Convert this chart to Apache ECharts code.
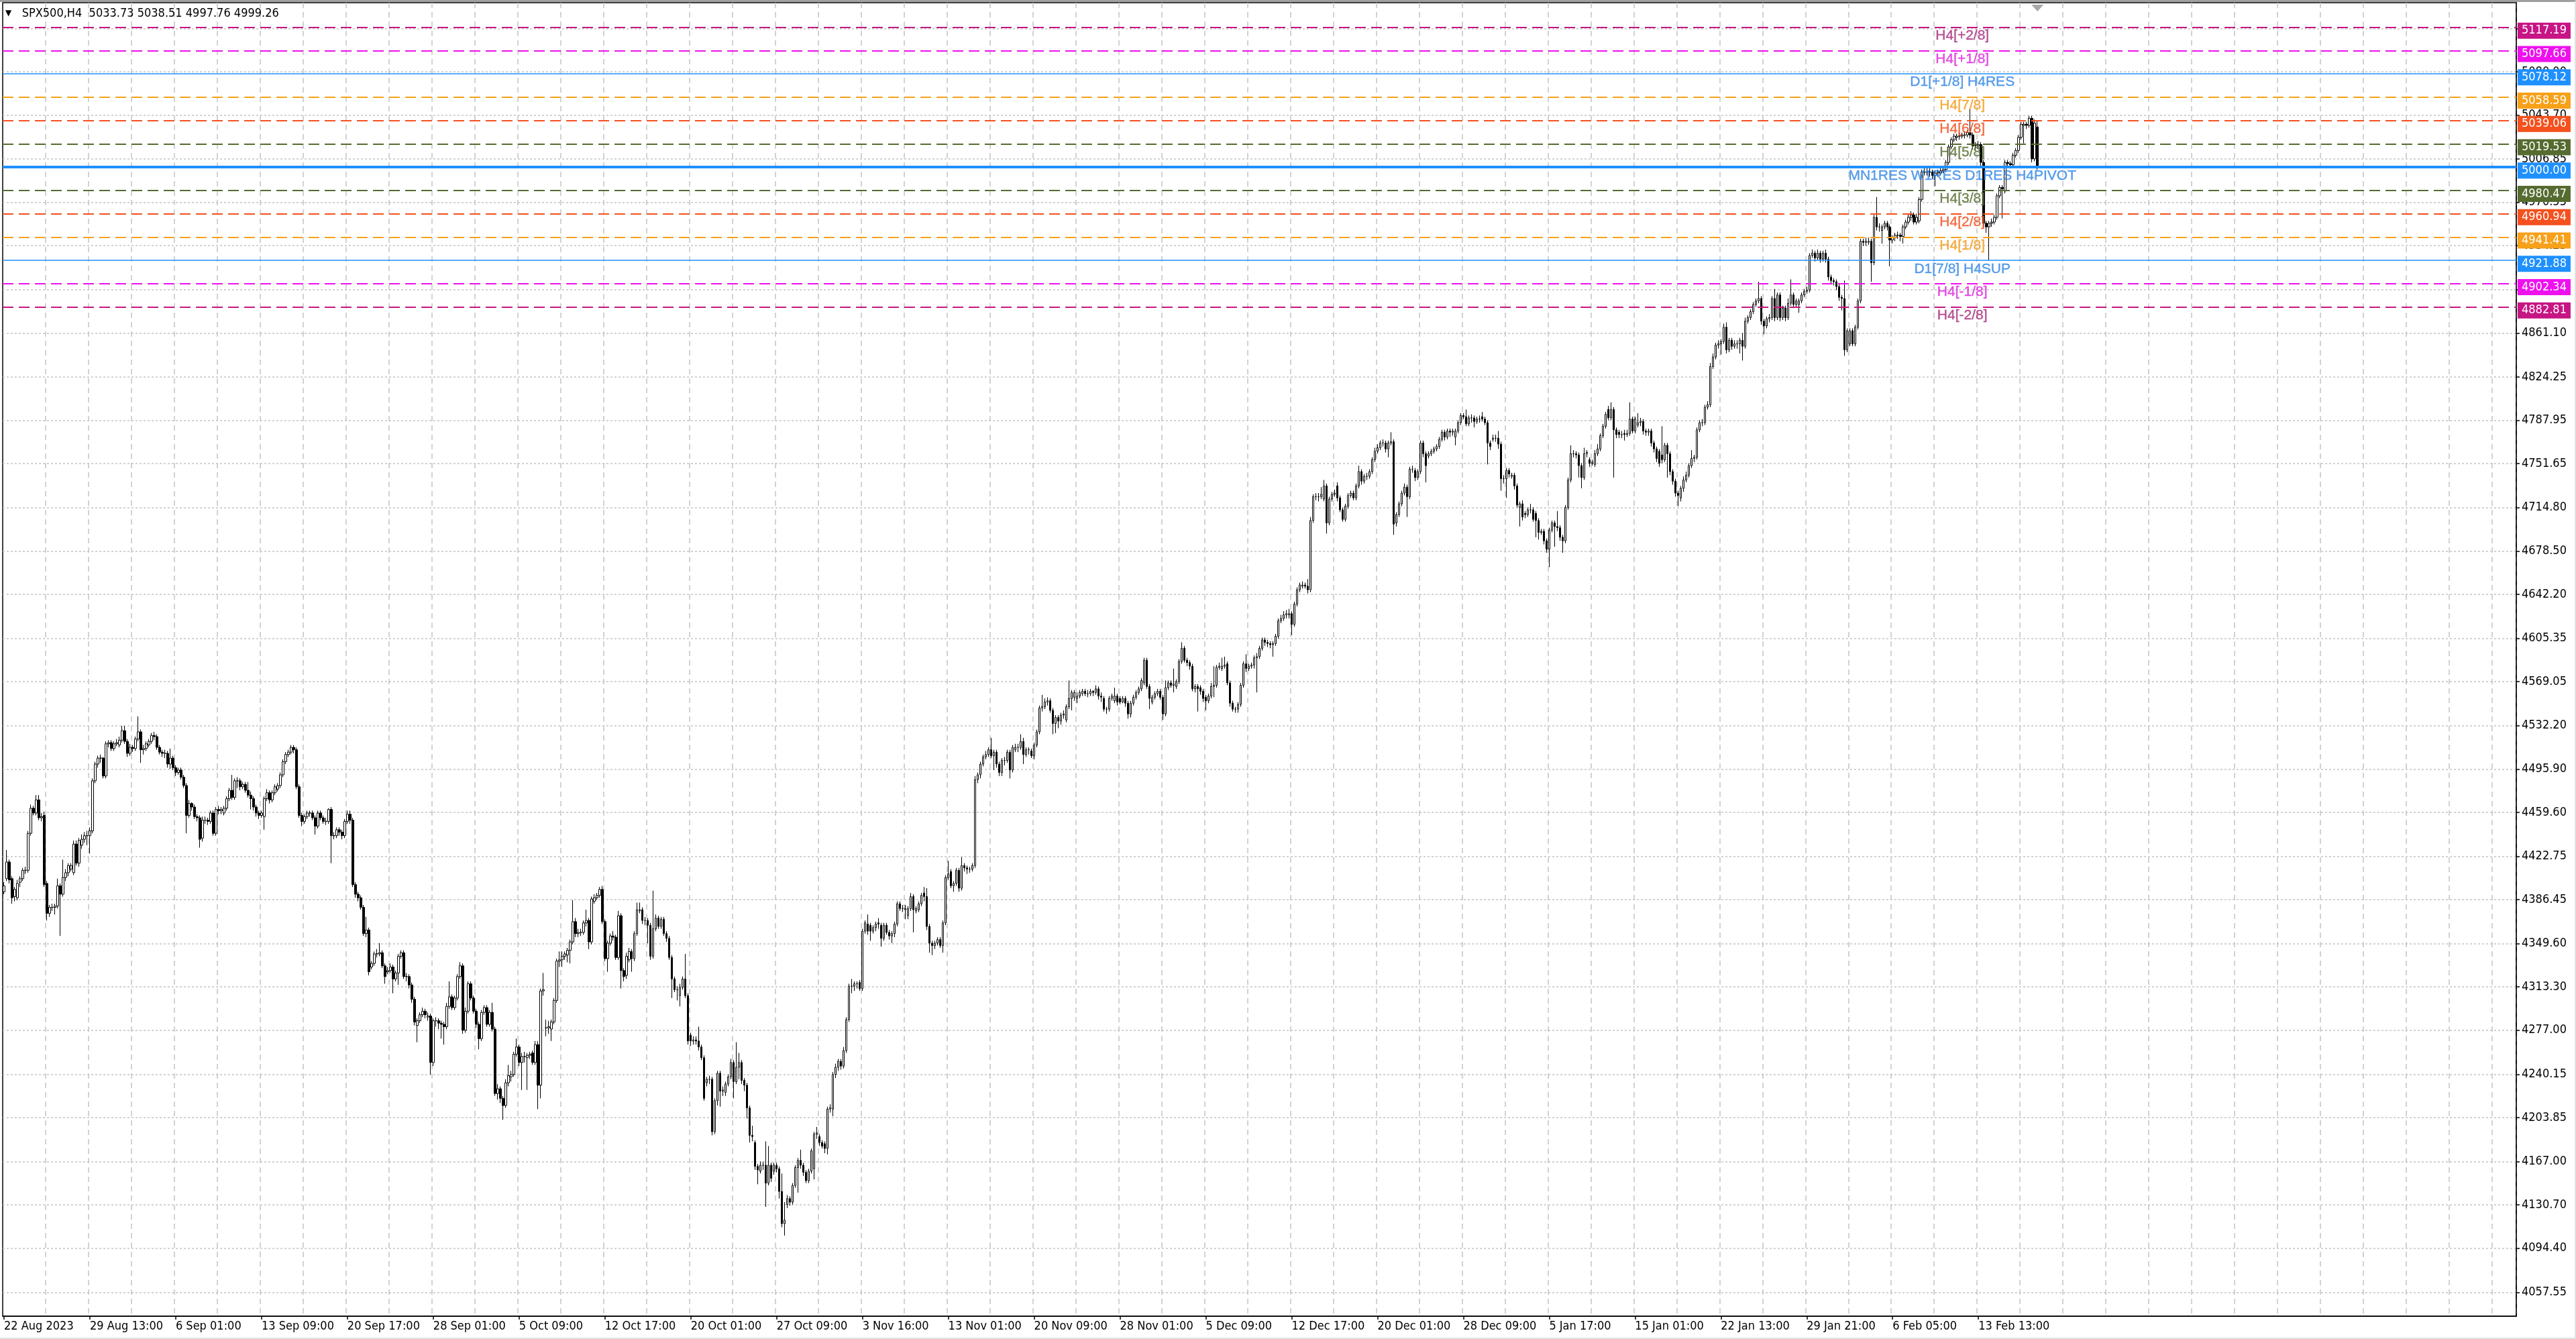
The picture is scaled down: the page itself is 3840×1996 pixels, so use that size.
<!DOCTYPE html>
<html><head><meta charset="utf-8">
<script src="https://cdn.jsdelivr.net/npm/echarts@6/dist/echarts.min.js"></script>
<style>
html,body{margin:0;padding:0;background:#fff;}
#wrap{width:3840px;height:1996px;box-sizing:border-box;border-top:3px solid #a0a0a0;border-right:2px solid #e2e2e2;border-bottom:2px solid #e2e2e2;}
#c{width:3838px;height:1991px;}
</style></head><body><div id="wrap"><div id="c"></div></div>
<script>
const symbolName = 'SPX500';
const timeframe = 'H4';

// candles as [open, close, low, high]
const seg1 = [
[4393,4398,4391,4401],[4404,4418,4402,4428],[4418,4403,4400,4420],[4404,4388,4383,4406],[4389,4395,4385,4397],
[4388,4400,4386,4403],[4401,4404,4397,4406],[4404,4411,4402,4413],[4411,4411,4408,4414],[4411,4442,4409,4444],
[4442,4463,4440,4466],[4463,4459,4457,4465],[4459,4470,4457,4474],[4470,4455,4453,4474],[4455,4456,4452,4459],
[4457,4399,4397,4460],[4400,4375,4369,4402],[4375,4380,4372,4382],[4380,4380,4377,4383],[4380,4381,4374,4383],
[4381,4398,4379,4404],[4398,4391,4356,4400],[4391,4405,4389,4420],[4405,4409,4402,4412],[4409,4415,4406,4417],
[4412,4415,4410,4417],[4409,4433,4407,4436],[4433,4417,4415,4436],[4417,4436,4414,4438],[4432,4437,4429,4441],
[4437,4440,4434,4443],[4440,4440,4432,4444],[4440,4444,4425,4447],[4444,4486,4442,4488],[4486,4500,4484,4502],
[4500,4505,4497,4507],[4505,4505,4501,4508],[4505,4490,4488,4506],[4490,4517,4488,4519],[4517,4518,4514,4520],
[4518,4513,4511,4520],[4513,4517,4511,4519],[4517,4518,4515,4521],[4516,4520,4514,4523],[4520,4528,4518,4532],
[4528,4519,4517,4532],[4519,4509,4506,4521],[4509,4514,4507,4517],[4514,4513,4510,4516],[4513,4521,4511,4523],
[4521,4527,4519,4540],[4527,4512,4501,4529],[4512,4513,4508,4516],[4513,4517,4511,4519],[4516,4519,4514,4521],
[4519,4524,4517,4526],[4524,4523,4520,4527],[4523,4514,4512,4525],[4514,4510,4508,4516],[4510,4509,4506,4512],
[4509,4509,4505,4512],[4509,4500,4497,4511],[4500,4505,4496,4513],[4505,4497,4495,4507],[4497,4493,4490,4499],
[4493,4495,4491,4497],[4495,4489,4487,4497],[4489,4482,4480,4491],[4482,4457,4442,4484],[4457,4467,4455,4470],
[4467,4464,4461,4468],[4464,4456,4454,4466],[4456,4455,4452,4458],[4455,4437,4430,4457],[4438,4453,4435,4456],
[4453,4453,4450,4456],[4453,4452,4449,4455],[4452,4459,4450,4461],[4459,4442,4440,4461],[4442,4462,4440,4464],
[4462,4461,4458,4465],[4461,4462,4458,4464],[4459,4463,4457,4465],[4463,4471,4461,4473],[4471,4478,4469,4480],
[4478,4472,4470,4491],[4472,4486,4470,4488],[4486,4486,4480,4489],[4486,4481,4478,4488],[4481,4483,4479,4485],
[4483,4478,4476,4485],[4478,4474,4472,4485],[4474,4471,4462,4477],[4471,4464,4461,4473],[4464,4459,4456,4466],
[4459,4457,4454,4461],[4457,4459,4455,4461],[4456,4471,4445,4473],[4471,4476,4469,4479],[4476,4470,4467,4478],
[4470,4476,4468,4478],[4476,4481,4474,4483],[4479,4482,4477,4484],[4482,4491,4480,4493],[4491,4502,4489,4504],
[4502,4508,4500,4510],[4508,4510,4506,4512],[4510,4514,4508,4516],[4514,4512,4509,4516],[4512,4481,4479,4514],
[4481,4457,4455,4483],[4457,4452,4448,4459],[4452,4456,4450,4458],[4456,4459,4454,4461],[4459,4459,4456,4461],
[4459,4455,4453,4461],[4455,4448,4441,4457],[4448,4459,4446,4461],[4459,4455,4453,4461],[4455,4452,4450,4457],
[4452,4452,4449,4455],[4452,4462,4450,4463],[4462,4440,4417,4464],[4440,4440,4437,4443],[4440,4445,4438,4447],
[4445,4443,4440,4447],[4443,4440,4437,4445],[4440,4452,4438,4454],[4452,4458,4450,4461],[4458,4453,4450,4461],
[4453,4399,4397,4455],[4399,4391,4388,4401],[4391,4388,4385,4393],[4388,4380,4378,4390],[4380,4358,4356,4382],
[4358,4361,4355,4372],[4361,4326,4323,4363],[4330,4333,4328,4335],[4333,4341,4331,4343],[4341,4341,4338,4345],
[4341,4342,4339,4350],[4342,4331,4329,4344],[4331,4322,4316,4333],[4326,4327,4324,4330],[4327,4330,4325,4333],
[4330,4320,4308,4332],[4320,4325,4318,4327],[4325,4339,4315,4341],[4339,4342,4337,4344],[4342,4322,4320,4344],
[4322,4322,4318,4325],[4322,4315,4312,4324],[4315,4303,4300,4317],[4303,4284,4281,4305],[4281,4285,4267,4287],
[4285,4290,4283,4292],[4290,4293,4288,4296],[4293,4290,4287,4295],[4288,4289,4285,4292],[4289,4250,4240,4291],
[4250,4285,4247,4287],[4285,4285,4280,4288],[4285,4283,4278,4287],[4283,4282,4270,4285],[4282,4280,4265,4284],
[4280,4297,4278,4300],[4297,4305,4295,4318],[4305,4296,4294,4307],[4296,4304,4294,4306],[4304,4322,4302,4324],
[4322,4331,4320,4334],[4331,4277,4274,4333],[4277,4293,4275,4296],[4293,4316,4291,4318],[4316,4304,4302,4318],
[4304,4293,4291,4306],[4293,4282,4279,4295],[4282,4270,4261,4284],[4270,4292,4268,4294],[4292,4296,4290,4298],
[4296,4282,4280,4298],[4282,4292,4280,4294],[4292,4278,4276,4300],[4278,4224,4222,4280],[4224,4228,4219,4232],
[4228,4220,4216,4230],[4220,4214,4202,4222],[4214,4233,4212,4236],[4233,4239,4230,4248],[4238,4240,4234,4243],
[4240,4257,4238,4259],[4257,4263,4255,4270],[4263,4250,4247,4265]
];
const seg2 = [
[4250,4255,4227,4258],[4255,4255,4250,4259],[4254,4256,4227,4258],[4256,4257,4253,4259],[4258,4250,4248,4260],
[4250,4265,4248,4268],[4265,4231,4211,4268],[4231,4310,4220,4312],[4310,4311,4306,4325],[4279,4279,4272,4286],
[4279,4280,4274,4285],[4278,4284,4268,4286],[4284,4302,4282,4304],[4302,4335,4300,4337],[4335,4336,4330,4343],
[4336,4339,4330,4343],[4339,4341,4336,4343],[4340,4344,4334,4346],[4344,4351,4333,4353],[4351,4368,4349,4386],
[4368,4358,4355,4371],[4358,4359,4355,4362],[4359,4359,4356,4362],[4359,4367,4357,4369],[4367,4369,4364,4378],
[4369,4351,4345,4371],[4351,4387,4349,4389],[4385,4388,4383,4391],[4388,4390,4386,4392],[4390,4395,4388,4397],
[4395,4368,4366,4398],[4368,4337,4335,4370],[4337,4350,4326,4352],[4350,4356,4348,4358],[4356,4355,4352,4360],
[4355,4338,4336,4357],[4338,4373,4336,4377],[4373,4327,4312,4375],[4327,4322,4318,4329],[4323,4339,4320,4342],
[4336,4343,4334,4346],[4343,4337,4326,4345],[4337,4358,4335,4360],[4358,4378,4356,4384],[4377,4378,4375,4384],
[4378,4369,4366,4380],[4369,4369,4365,4372],[4369,4365,4350,4371],[4365,4339,4336,4367],[4339,4362,4337,4394],
[4362,4371,4360,4374],[4371,4364,4362,4373],[4364,4370,4362,4372],[4370,4358,4356,4372],[4358,4354,4351,4360],
[4354,4338,4336,4356],[4338,4320,4304,4340],[4320,4311,4309,4322],[4311,4311,4302,4314],[4306,4313,4297,4316],
[4313,4320,4311,4322],[4320,4306,4304,4341],[4306,4268,4265,4308],[4273,4268,4264,4275],[4268,4269,4265,4272],
[4269,4268,4265,4272],[4268,4263,4260,4280],[4263,4254,4252,4265],[4254,4220,4218,4256],[4233,4236,4230,4238],
[4236,4236,4232,4239],[4236,4192,4189,4238],[4192,4218,4190,4220],[4218,4241,4214,4243],[4241,4226,4213,4243],
[4226,4227,4222,4230],[4225,4232,4222,4234],[4232,4238,4230,4240],[4238,4250,4236,4253],[4250,4234,4220,4252],
[4234,4246,4232,4267],[4246,4250,4236,4258],[4250,4235,4232,4252],[4235,4231,4226,4237],[4231,4212,4203,4233],
[4212,4189,4183,4214],[4189,4188,4184,4197],[4183,4163,4160,4185],[4163,4160,4148,4165],[4159,4164,4157,4167],
[4164,4164,4160,4167],[4164,4149,4129,4184],[4149,4164,4147,4180],[4164,4153,4150,4166],[4159,4164,4156,4166],
[4164,4161,4158,4166],[4161,4142,4136,4163],[4142,4115,4112,4157],[4115,4118,4105,4133],[4131,4136,4128,4139],
[4136,4133,4130,4138],[4133,4147,4131,4149],[4147,4162,4145,4164],[4162,4168,4141,4170],[4168,4164,4161,4177],
[4164,4158,4155,4166],[4158,4151,4149,4160],[4151,4159,4149,4161],[4159,4176,4157,4178],[4161,4190,4152,4192],
[4190,4191,4186,4196],[4188,4183,4180,4190],[4183,4180,4178,4185],[4182,4178,4174,4184],[4178,4211,4173,4213],
[4211,4212,4208,4215],[4211,4240,4205,4242],[4240,4246,4237,4249],[4246,4251,4243,4253],[4251,4247,4244,4253],
[4247,4260,4245,4263],[4260,4286,4258,4288],[4286,4314,4284,4316],[4314,4314,4308,4320],[4314,4316,4310,4318],
[4316,4316,4312,4318],[4317,4312,4310,4319],[4312,4360,4310,4362],[4360,4367,4358,4369],[4366,4360,4357,4374],
[4365,4360,4352,4367],[4360,4363,4358,4365],[4363,4366,4360,4368],[4367,4366,4362,4371],[4365,4354,4347,4367],
[4354,4365,4352,4367],[4365,4359,4357,4367],[4359,4356,4353,4361],[4356,4358,4350,4360],[4358,4366,4355,4368],
[4366,4383,4364,4385],[4383,4379,4377,4385],[4379,4379,4376,4382],[4378,4379,4370,4382],[4373,4379,4370,4381],
[4379,4389,4377,4392],[4389,4378,4359,4391],[4377,4379,4375,4381],[4378,4383,4376,4385],[4383,4390,4381,4392],
[4392,4389,4385,4397],[4389,4364,4361,4396],[4364,4350,4342,4366],[4350,4348,4340,4352],[4348,4350,4345,4352],
[4350,4353,4348,4355],[4353,4348,4346,4355],[4348,4367,4342,4369],[4367,4405,4365,4407],[4405,4408,4403,4419],
[4410,4398,4396,4412],[4398,4400,4393,4402],[4400,4411,4398,4413],[4411,4396,4393,4413],[4396,4415,4394,4422],
[4415,4413,4410,4417],[4413,4412,4408,4415],[4412,4412,4409,4414],[4412,4415,4410,4417],[4415,4487,4413,4490],
[4487,4491,4484,4493],[4491,4500,4488,4502],[4500,4506,4498,4508],[4506,4508,4504,4511],[4508,4512,4506,4514],
[4512,4507,4505,4522],[4507,4510,4495,4512],[4510,4500,4497,4512],[4500,4493,4490,4502],[4493,4503,4490,4505],
[4503,4503,4499,4506],[4503,4510,4501,4512],[4510,4495,4488,4512],[4495,4514,4493,4516],[4512,4514,4510,4517],
[4514,4514,4510,4517],[4514,4519,4512,4525],[4519,4508,4500,4522],[4508,4512,4506,4514],[4512,4512,4508,4514],
[4511,4507,4505,4513]
];
const seg3 = [
[4507,4516,4504,4518],[4516,4527,4514,4529],[4527,4547,4525,4549],[4547,4548,4544,4558],[4548,4552,4546,4555],
[4552,4553,4549,4556],[4553,4545,4543,4555],[4545,4534,4525,4547],[4534,4539,4526,4541],[4539,4536,4530,4541],
[4536,4541,4533,4543],[4541,4542,4538,4545],[4537,4548,4535,4550],[4548,4555,4546,4570],[4555,4560,4545,4562],
[4556,4560,4553,4562],[4555,4557,4551,4560],[4557,4560,4555,4562],[4559,4561,4557,4563],[4561,4559,4557,4563],
[4559,4559,4556,4562],[4559,4561,4557,4563],[4561,4560,4557,4562],[4560,4563,4558,4566],[4563,4557,4554,4565],
[4557,4556,4552,4560],[4555,4546,4544,4557],[4546,4546,4542,4548],[4546,4555,4544,4557],[4555,4557,4553,4559],
[4553,4557,4551,4564],[4557,4552,4549,4559],[4555,4552,4550,4557],[4552,4555,4551,4557],[4555,4551,4548,4557],
[4551,4542,4538,4553],[4542,4551,4539,4553],[4551,4556,4549,4558],[4556,4560,4554,4562],[4560,4563,4558,4565],
[4563,4570,4561,4572],[4568,4587,4566,4589],[4587,4565,4563,4589],[4565,4555,4546,4567],[4552,4556,4550,4558],
[4556,4559,4554,4561],[4559,4561,4557,4563],[4561,4556,4554,4563],[4556,4542,4537,4558],[4542,4564,4540,4570],
[4564,4568,4562,4570],[4568,4566,4564,4570],[4566,4567,4560,4580],[4565,4569,4563,4571],[4569,4586,4567,4588],
[4586,4597,4584,4602],[4597,4587,4585,4599],[4587,4585,4582,4589],[4585,4582,4579,4587],[4582,4563,4561,4584],
[4563,4565,4560,4567],[4565,4563,4544,4567],[4564,4561,4558,4566],[4561,4555,4552,4563],[4556,4553,4545,4558],
[4553,4557,4551,4559],[4557,4565,4555,4568],[4565,4566,4556,4582],[4566,4581,4564,4583],[4581,4582,4579,4585],
[4580,4582,4578,4589],[4582,4583,4580,4590],[4584,4568,4566,4586],[4568,4551,4548,4570],[4551,4546,4544,4553],
[4546,4546,4543,4548],[4546,4550,4543,4552],[4550,4566,4548,4568],[4566,4584,4564,4586],[4584,4580,4577,4592],
[4580,4582,4578,4584],[4582,4583,4580,4585],[4583,4589,4580,4591],[4589,4590,4560,4593],[4590,4597,4588,4599],
[4597,4604,4595,4606],[4604,4602,4599,4606],[4602,4601,4598,4604],[4601,4600,4597,4603],[4600,4601,4590,4603],
[4601,4607,4599,4609],[4607,4620,4605,4622],[4620,4622,4618,4625],[4622,4625,4620,4628],[4625,4626,4622,4629],
[4625,4626,4622,4630],[4626,4617,4608,4628],[4617,4634,4615,4636],[4634,4646,4632,4648],[4646,4650,4644,4652],
[4649,4650,4647,4653],[4650,4649,4647,4652],[4649,4646,4643,4655],[4646,4704,4644,4707],[4704,4724,4702,4726],
[4724,4724,4721,4727],[4724,4724,4720,4727],[4724,4726,4722,4732],[4722,4733,4720,4738],[4733,4702,4693,4735],
[4702,4722,4700,4724],[4722,4726,4720,4728],[4726,4727,4724,4730],[4733,4723,4720,4736],[4723,4713,4711,4725],
[4713,4705,4703,4715],[4705,4716,4703,4718],[4716,4725,4714,4727],[4725,4727,4723,4729],[4727,4723,4721,4729],
[4723,4733,4721,4735],[4733,4745,4731,4750],[4745,4737,4734,4747],[4737,4741,4735,4743],[4741,4741,4738,4744],
[4741,4745,4739,4747],[4745,4755,4743,4757],[4755,4762,4753,4765],[4762,4765,4760,4768],[4765,4769,4763,4771],
[4769,4769,4766,4772],[4769,4764,4761,4771],[4764,4769,4757,4771],[4769,4770,4767,4778],[4770,4701,4692,4772],
[4702,4709,4699,4711],[4709,4718,4707,4720],[4718,4727,4716,4729],[4727,4732,4725,4735],[4732,4724,4707,4734],
[4724,4747,4722,4749],[4747,4747,4744,4750],[4746,4740,4737,4748],[4740,4745,4738,4747],[4745,4769,4743,4771],
[4769,4760,4757,4771],[4760,4750,4736,4762],[4758,4760,4756,4762],[4760,4762,4758,4764],[4762,4764,4760,4766],
[4764,4766,4762,4768],[4766,4772,4764,4774],[4772,4778,4770,4780],[4778,4774,4771,4780],[4774,4779,4772,4781],
[4779,4778,4774,4781],[4778,4779,4775,4781],[4774,4779,4767,4781],[4779,4786,4777,4788],[4786,4792,4784,4794],
[4792,4791,4789,4794],[4791,4785,4783,4797],[4785,4790,4783,4792],[4790,4790,4786,4793],[4790,4787,4782,4792],
[4787,4789,4785,4791],[4789,4789,4786,4792],[4791,4789,4787,4795],[4789,4786,4784,4791],[4786,4769,4751,4788],
[4769,4766,4763,4771],[4772,4773,4770,4776],[4773,4773,4770,4776],[4773,4768,4764,4779],[4768,4739,4729,4770],
[4739,4739,4735,4742],[4739,4746,4723,4748],[4746,4743,4740,4748],[4741,4742,4739,4744],[4742,4733,4730,4744],
[4733,4717,4715,4735],[4715,4718,4699,4720],[4718,4707,4704,4721],[4710,4709,4706,4712],[4709,4713,4707,4715],
[4713,4713,4710,4718],[4713,4705,4703,4715],[4710,4704,4690,4712],[4704,4694,4688,4706],[4694,4695,4692,4697]
];
const seg4 = [
[4695,4687,4684,4697],[4687,4680,4677,4689],[4680,4696,4665,4698],[4696,4702,4694,4704],[4702,4699,4682,4704],
[4699,4698,4695,4712],[4698,4690,4687,4700],[4690,4687,4677,4692],[4687,4715,4685,4717],[4715,4738,4713,4740],
[4738,4760,4736,4767],[4760,4760,4757,4763],[4760,4759,4756,4762],[4759,4750,4740,4761],[4750,4740,4731,4752],
[4740,4760,4738,4765],[4760,4761,4757,4763],[4755,4752,4749,4757],[4752,4753,4750,4755],[4751,4760,4749,4763],
[4760,4764,4758,4768],[4764,4775,4762,4777],[4775,4783,4773,4785],[4783,4793,4781,4795],[4797,4790,4788,4800],
[4790,4797,4788,4803],[4797,4780,4740,4799],[4780,4776,4773,4782],[4778,4776,4773,4780],[4776,4776,4773,4779],
[4777,4776,4771,4780],[4776,4777,4774,4780],[4777,4789,4775,4803],[4789,4779,4777,4791],[4779,4789,4777,4791],
[4784,4786,4782,4794],[4786,4787,4783,4790],[4787,4779,4776,4789],[4779,4778,4775,4781],[4778,4779,4775,4781],
[4779,4769,4766,4781],[4769,4764,4761,4771],[4764,4756,4753,4766],[4762,4752,4749,4764],[4759,4755,4752,4783],
[4755,4767,4753,4769],[4767,4760,4740,4769],[4760,4745,4742,4762],[4745,4737,4734,4747],[4737,4727,4724,4739],
[4727,4725,4716,4729],[4723,4731,4720,4733],[4731,4738,4728,4741],[4738,4742,4736,4745],[4742,4750,4740,4752],
[4750,4756,4748,4763],[4756,4757,4753,4759],[4757,4780,4755,4782],[4780,4786,4778,4788],[4786,4786,4783,4789],
[4786,4799,4784,4801],[4799,4801,4797,4804],[4801,4833,4799,4836],[4833,4841,4831,4844],[4841,4851,4839,4853],
[4851,4852,4848,4855],[4852,4854,4843,4856],[4854,4866,4852,4869],[4866,4847,4844,4870],[4847,4855,4845,4857],
[4855,4850,4847,4857],[4850,4852,4848,4855],[4852,4852,4848,4855],[4852,4855,4844,4857],[4855,4850,4838,4861],
[4850,4871,4848,4874],[4871,4874,4869,4876],[4874,4879,4872,4881],[4879,4885,4877,4887],[4885,4888,4883,4890],
[4888,4890,4886,4904],[4890,4871,4868,4892],[4871,4867,4860,4873],[4867,4873,4865,4875],[4873,4874,4870,4877],
[4874,4890,4872,4892],[4890,4874,4871,4898],[4874,4893,4872,4895],[4893,4874,4871,4895],[4874,4882,4872,4884],
[4882,4874,4871,4884],[4874,4886,4872,4890],[4886,4893,4884,4906],[4893,4885,4882,4895],[4885,4888,4883,4890],
[4885,4888,4878,4890],[4888,4893,4886,4895],[4893,4896,4891,4898],[4896,4897,4894,4900],[4897,4926,4895,4928],
[4926,4928,4924,4931],[4928,4924,4921,4930],[4924,4928,4922,4931],[4928,4923,4920,4930],[4923,4928,4921,4930],
[4928,4923,4920,4931],[4923,4908,4905,4925],[4908,4905,4902,4910],[4905,4904,4901,4907],[4904,4900,4897,4906],
[4900,4891,4888,4902],[4891,4890,4880,4893],[4890,4847,4842,4905],[4847,4863,4845,4865],[4852,4863,4850,4865],
[4863,4852,4850,4865],[4852,4866,4850,4868],[4866,4888,4864,4890],[4888,4938,4886,4940],[4938,4937,4934,4940],
[4937,4938,4934,4941],[4937,4938,4935,4941],[4938,4920,4904,4940],[4920,4958,4918,4960],[4958,4950,4947,4975],
[4950,4950,4946,4953],[4947,4950,4936,4952],[4950,4953,4948,4955],[4953,4950,4947,4955],[4950,4939,4917,4952],
[4939,4941,4936,4943],[4941,4943,4938,4945],[4943,4943,4940,4946],[4943,4942,4938,4945],[4942,4950,4936,4952],
[4950,4954,4948,4956],[4954,4958,4952,4961],[4958,4960,4955,4963],[4960,4954,4952,4962],[4954,4958,4952,4961],
[4955,4973,4953,4975],[4973,4996,4971,4998],[4996,4996,4993,4999],[4996,4996,4993,4999],[4996,4996,4992,4999],
[4996,4993,4990,4998],[4993,4995,4984,4997],[4995,4996,4992,4998],[4995,4997,4993,4999],[4997,4998,4995,5000],
[4998,5004,4996,5006],[5004,5017,5002,5019],[5017,5023,5015,5025],[5023,5026,5021,5028],[5025,5026,5022,5028],
[5026,5026,5023,5029],[5026,5027,5024,5029],[5027,5027,5024,5030],[5027,5029,5025,5031],[5029,5027,5024,5049],
[5027,5018,5015,5029],[5018,5018,5014,5021],[5018,5019,5015,5022],[5019,5004,5001,5021],[5004,4953,4950,5006],
[4953,4950,4945,4955],[4950,4953,4922,4955],[4953,4954,4950,4957],[4954,4958,4952,4960],[4958,4976,4956,4978],
[4976,4983,4974,4985],[4983,4982,4957,4985],[4980,5004,4978,5006],[5004,5003,5000,5006],[5003,5002,4999,5005],
[5002,5010,5000,5012],[5010,5014,5008,5016],[5014,5025,5012,5027],[5025,5036,5023,5038],[5035,5036,5020,5038],
[5036,5035,5032,5038],[5035,5041,5033,5043],[5041,5007,5004,5043],[5007,5037,5005,5040],[5033.73,4999.26,4997.76,5038.51]
];

const xTickLabels = ['22 Aug 2023','29 Aug 13:00','6 Sep 01:00','13 Sep 09:00','20 Sep 17:00','28 Sep 01:00',
  '5 Oct 09:00','12 Oct 17:00','20 Oct 01:00','27 Oct 09:00','3 Nov 16:00','13 Nov 01:00','20 Nov 09:00',
  '28 Nov 01:00','5 Dec 09:00','12 Dec 17:00','20 Dec 01:00','28 Dec 09:00','5 Jan 17:00','15 Jan 01:00',
  '22 Jan 13:00','29 Jan 21:00','6 Feb 05:00','13 Feb 13:00'];

const yTicks = [4057.55,4094.40,4130.70,4167.00,4203.85,4240.15,4277.00,4313.30,4349.60,4386.45,4422.75,
  4459.60,4495.90,4532.20,4569.05,4605.35,4642.20,4678.50,4714.80,4751.65,4787.95,4824.25,4861.10,4897.40,
  4934.25,4970.55,5006.85,5043.70,5080.00,5116.30];

const levelValues = [5117.19,5097.66,5078.12,5058.59,5039.06,5019.53,5000.00,4980.47,4960.94,4941.41,4921.88,4902.34,4882.81];
const levelNames = ['H4[+2/8]','H4[+1/8]','D1[+1/8] H4RES','H4[7/8]','H4[6/8]','H4[5/8]',
  'MN1RES W1RES D1RES H4PIVOT','H4[3/8]','H4[2/8]','H4[1/8]','D1[7/8] H4SUP','H4[-1/8]','H4[-2/8]'];

// ---- styles / layout (not data) ----
const C_MVR = '#C71585', C_MAG = '#EE11EE', C_BLUE = '#1E90FF', C_ORG = '#F7A11A', C_ORR = '#F4511E', C_OLV = '#556B2F';
const T_MVR = '#A8287A', T_MAG = '#DD22DD', T_BLUE = '#2F86E6', T_ORG = '#F29A18', T_ORR = '#EE4E1C', T_OLV = '#556B2F';
const DASH = [16, 8];
const levelStyles = [
  {color:C_MVR,text:T_MVR,type:DASH,width:2},{color:C_MAG,text:T_MAG,type:DASH,width:2},{color:C_BLUE,text:T_BLUE,type:'solid',width:1.5},
  {color:C_ORG,text:T_ORG,type:DASH,width:2},{color:C_ORR,text:T_ORR,type:DASH,width:2},{color:C_OLV,text:T_OLV,type:DASH,width:2},
  {color:C_BLUE,text:T_BLUE,type:'solid',width:4},
  {color:C_OLV,text:T_OLV,type:DASH,width:2},{color:C_ORR,text:T_ORR,type:DASH,width:2},{color:C_ORG,text:T_ORG,type:DASH,width:2},
  {color:C_BLUE,text:T_BLUE,type:'solid',width:1.5},{color:C_MAG,text:T_MAG,type:DASH,width:2},{color:C_MVR,text:T_MVR,type:DASH,width:2}
];
const yMin = 4037.5, yMax = 5137.8;
const slotCount = 937, barsPerLabel = 32, barsPerGrid = 16, labelBar = 730;
const AXIS_FONT = '"DejaVu Sans Condensed","Liberation Sans",sans-serif';
const TEXT_FONT = '"Liberation Sans",Arial,sans-serif';

const candles = seg1.concat(seg2, seg3, seg4);
const last = candles[candles.length - 1];
const categories = [];
for (let i = 0; i < slotCount; i++) categories.push(String(i));
const isLabelIdx = (i) => i % barsPerLabel === 0 && (i / barsPerLabel) < xTickLabels.length;

const chart = echarts.init(document.getElementById('c'), null, {renderer: 'canvas'});
chart.setOption({
  animation: false,
  backgroundColor: '#ffffff',
  title: {
    text: '{t|▼}   ' + symbolName + ',' + timeframe + '  ' + [last[0], last[3], last[2], last[1]].map(v => v.toFixed(2)).join(' '),
    left: 8, top: 8, padding: 0,
    textStyle: {fontSize: 18, fontWeight: 'normal', color: '#000', fontFamily: AXIS_FONT,
      rich: {t: {fontSize: 12, color: '#000', fontFamily: 'DejaVu Sans'}}}
  },
  grid: {left: 4, right: 87, top: 1, bottom: 32, show: true, borderColor: '#000', borderWidth: 1.5, backgroundColor: '#fff'},
  xAxis: {
    type: 'category', data: categories, boundaryGap: true,
    axisLine: {show: true, lineStyle: {color: '#000', width: 1.5}},
    axisTick: {show: true, interval: (i) => isLabelIdx(i), alignWithLabel: true, length: 5, lineStyle: {color: '#000', width: 1.5}},
    axisLabel: {interval: (i) => isLabelIdx(i), formatter: (v, i) => isLabelIdx(i) ? xTickLabels[i / barsPerLabel] : '',
      align: 'left', margin: 6, fontSize: 18, color: '#000', fontFamily: AXIS_FONT},
    splitLine: {show: true, interval: (i) => i % barsPerGrid === 0 && i > 0,
      lineStyle: {color: '#c4c4c4', type: [8, 6], width: 1.5}}
  },
  yAxis: {
    type: 'value', position: 'right', min: yMin, max: yMax, scale: true,
    axisLine: {show: true, lineStyle: {color: '#000', width: 1.5}},
    axisTick: {show: true, customValues: yTicks, length: 5, lineStyle: {color: '#000', width: 1.5}},
    axisLabel: {customValues: yTicks, formatter: (v) => Number(v).toFixed(2), margin: 8, fontSize: 18, color: '#000', fontFamily: AXIS_FONT},
    splitLine: {show: true, lineStyle: {color: '#c4c4c4', type: [3, 3], width: 1.5}}
  },
  series: [
    {
      type: 'candlestick', data: candles, barWidth: 3, large: false, progressive: 0,
      itemStyle: {color: '#ffffff', color0: '#000000', borderColor: '#000000', borderColor0: '#000000', borderWidth: 1},
      emphasis: {disabled: true},
      markLine: {
        silent: true, symbol: ['none', 'none'], animation: false, precision: 2,
        data: levelValues.map((v, i) => ({
          yAxis: v,
          lineStyle: {color: levelStyles[i].color, type: levelStyles[i].type, width: levelStyles[i].width},
          label: {show: true, position: 'end', distance: 2, offset: [0, 5], formatter: v.toFixed(2),
            backgroundColor: levelStyles[i].color, color: '#fff', padding: [3, 6, 3, 6], lineHeight: 18,
            fontSize: 18, fontFamily: AXIS_FONT}
        }))
      },
      markPoint: {
        silent: true, animation: false,
        data: [{coord: [candles.length - 1, yMax], symbol: 'triangle', symbolRotate: 180, symbolSize: [18, 10],
          symbolOffset: [0, 8], itemStyle: {color: '#a8a8a8'}, label: {show: false}}]
      }
    },
    {
      type: 'scatter', symbolSize: 0, silent: true, z: 5,
      data: levelValues.map((v, i) => ({
        value: [labelBar, v],
        label: {show: true, position: 'bottom', distance: 2, formatter: levelNames[i], color: levelStyles[i].text,
          textBorderColor: levelStyles[i].text, textBorderWidth: 0.4, fontSize: 21, fontFamily: TEXT_FONT}
      }))
    }
  ]
});
</script></body></html>
